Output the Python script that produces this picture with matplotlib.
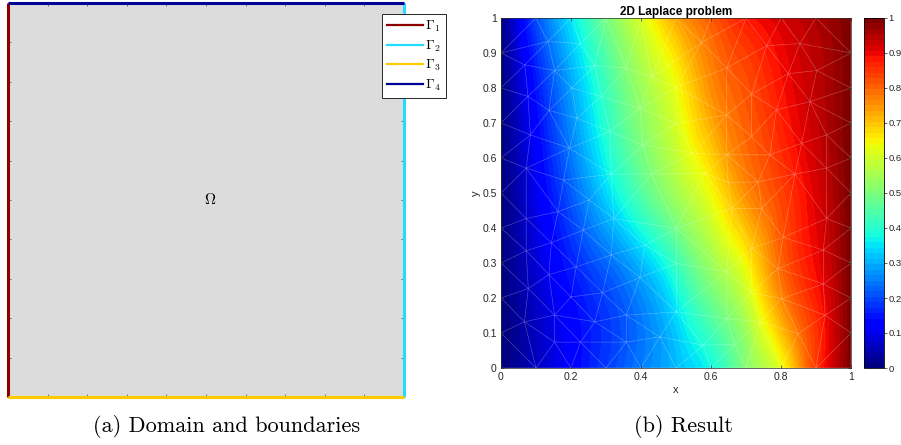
import numpy as np
import matplotlib
matplotlib.use('Agg')
import matplotlib.pyplot as plt
import matplotlib.tri as mtri
import matplotlib.colors as colors
from matplotlib.lines import Line2D

plt.rcParams['mathtext.fontset'] = 'cm'

# boundary colours of the domain (left panel)
bnd_labels = [r'$\Gamma_{\mathsf{1}}$', r'$\Gamma_{\mathsf{2}}$',
              r'$\Gamma_{\mathsf{3}}$', r'$\Gamma_{\mathsf{4}}$']
bnd_colors = ['#8e0000', '#22ddff', '#ffcc00', '#000096']

# solution, rows at grid_y, columns at grid_x
grid_x = [0.0, 0.1, 0.2, 0.3, 0.4, 0.5, 0.6, 0.7, 0.8, 0.9, 1.0]
grid_y = [0.0, 0.25, 0.5, 0.75, 1.0]
u_y000 = [0.0, 0.061, 0.122, 0.186, 0.250, 0.310, 0.375, 0.510, 0.625, 0.850, 1.0]
u_y025 = [0.0, 0.074, 0.144, 0.206, 0.281, 0.388, 0.510, 0.615, 0.781, 0.886, 1.0]
u_y050 = [0.0, 0.101, 0.216, 0.336, 0.447, 0.545, 0.637, 0.754, 0.835, 0.912, 1.0]
u_y075 = [0.0, 0.135, 0.275, 0.410, 0.525, 0.620, 0.740, 0.812, 0.878, 0.936, 1.0]
u_y100 = [0.0, 0.200, 0.350, 0.490, 0.610, 0.730, 0.810, 0.880, 0.918, 0.955, 1.0]

# mesh nodes (approximate), boundary nodes every 0.1
edge_pts = [0.0, 0.1, 0.2, 0.3, 0.4, 0.5, 0.6, 0.7, 0.8, 0.9, 1.0]
inner_x = [0.134, 0.227, 0.068, 0.153, 0.268, 0.358, 0.430, 0.501, 0.573, 0.645,
           0.759, 0.854, 0.902, 0.821, 0.716, 0.883, 0.077, 0.203, 0.287, 0.397,
           0.137, 0.217, 0.311, 0.084, 0.196, 0.406, 0.501, 0.645, 0.787, 0.930,
           0.859, 0.716, 0.768, 0.645, 0.549, 0.072, 0.179, 0.315, 0.430, 0.582,
           0.649, 0.735, 0.840, 0.930, 0.252, 0.163, 0.072, 0.322, 0.501, 0.659,
           0.745, 0.930, 0.806, 0.716, 0.235, 0.144, 0.072, 0.315, 0.501, 0.411,
           0.215, 0.137, 0.921, 0.791, 0.645, 0.397, 0.078, 0.200, 0.290, 0.716,
           0.802, 0.921, 0.153, 0.268, 0.358, 0.501, 0.645, 0.740, 0.926, 0.067,
           0.153, 0.227, 0.358, 0.454, 0.578, 0.668, 0.849]
inner_y = [0.933, 0.927, 0.866, 0.850, 0.864, 0.857, 0.831, 0.802, 0.930, 0.857,
           0.921, 0.927, 0.850, 0.841, 0.783, 0.761, 0.776, 0.800, 0.776, 0.742,
           0.736, 0.714, 0.676, 0.666, 0.628, 0.637, 0.699, 0.723, 0.738, 0.666,
           0.642, 0.661, 0.609, 0.609, 0.614, 0.571, 0.537, 0.554, 0.554, 0.556,
           0.530, 0.532, 0.554, 0.571, 0.480, 0.447, 0.427, 0.427, 0.399, 0.456,
           0.456, 0.427, 0.373, 0.342, 0.394, 0.358, 0.335, 0.323, 0.299, 0.351,
           0.289, 0.267, 0.337, 0.284, 0.275, 0.259, 0.227, 0.203, 0.215, 0.215,
           0.198, 0.240, 0.151, 0.132, 0.151, 0.160, 0.141, 0.132, 0.151, 0.132,
           0.074, 0.074, 0.074, 0.089, 0.065, 0.068, 0.098]

W, H = 901, 445
fig = plt.figure(figsize=(W / 100, H / 100), dpi=100)

def px(l, t, r, b):
    return [l / W, 1 - b / H, (r - l) / W, (b - t) / H]

# ---------------- (a) domain ----------------
axd = fig.add_axes(px(8, 3, 404, 397))
axd.set_facecolor('#dcdcdc')
axd.set_xlim(0, 1)
axd.set_ylim(0, 1)
for s in axd.spines.values():
    s.set_visible(False)
axd.set_xticks(edge_pts)
axd.set_yticks(edge_pts)
axd.tick_params(direction='in', length=2, width=0.5, color='#444444',
                top=True, right=True, labelbottom=False, labelleft=False)

segs = [([0, 0], [0, 1]), ([1, 1], [0, 1]), ([0, 1], [0, 0]), ([0, 1], [1, 1])]
handles = []
for (sx, sy), c, lab in zip(segs, bnd_colors, bnd_labels):
    axd.plot(sx, sy, color=c, lw=2.2, clip_on=False, solid_capstyle='butt', zorder=3)
    handles.append(Line2D([], [], color=c, lw=1.6, label=lab))

axd.text(0.51, 0.5, r'$\Omega$', ha='center', va='center', fontsize=11)

leg = fig.legend(handles=handles, loc='upper left',
                 bbox_to_anchor=(382 / W, 1 - 14 / H), bbox_transform=fig.transFigure,
                 borderaxespad=0, fontsize=10, handlelength=2.6, handletextpad=0.15,
                 labelspacing=0.3, borderpad=0.35, fancybox=False, framealpha=1)
leg.get_frame().set_edgecolor('#262626')
leg.get_frame().set_linewidth(0.7)

# ---------------- (b) result ----------------
jet64 = plt.get_cmap('jet', 64)
norm = colors.Normalize(vmin=0, vmax=1)

gx, gy = np.meshgrid(grid_x, grid_y)
gu = np.array([u_y000, u_y025, u_y050, u_y075, u_y100])
tri = mtri.Triangulation(gx.ravel(), gy.ravel())
refiner = mtri.UniformTriRefiner(tri)
tri_f, u_f = refiner.refine_field(gu.ravel(), subdiv=4)
u_f = np.clip(u_f, 0, 1)

axr = fig.add_axes(px(501, 18, 851, 368))
axr.tricontourf(tri_f, u_f, levels=np.linspace(0, 1, 65), cmap=jet64, norm=norm)

bx, by = [], []
for v in edge_pts:
    bx += [v, v, 0.0, 1.0]
    by += [0.0, 1.0, v, v]
nodes = np.unique(np.round(np.column_stack([bx + inner_x, by + inner_y]), 4), axis=0)
mesh = mtri.Triangulation(nodes[:, 0], nodes[:, 1])
axr.triplot(mesh, color='white', lw=0.45, alpha=0.3)

axr.set_xlim(0, 1)
axr.set_ylim(0, 1)
fmt = lambda v, p: '%g' % v
axr.xaxis.set_major_formatter(fmt)
axr.yaxis.set_major_formatter(fmt)
axr.set_xticks([0, 0.2, 0.4, 0.6, 0.8, 1.0])
axr.set_yticks(edge_pts)
tick_col = '#262626'
axr.tick_params(direction='in', length=2.5, width=0.5, labelsize=7.5,
                colors=tick_col, top=True, right=True, pad=3)
for lab in axr.get_xticklabels() + axr.get_yticklabels():
    lab.set_fontfamily('Liberation Sans')
for s in axr.spines.values():
    s.set_color(tick_col)
    s.set_linewidth(0.5)
axr.set_xlabel('x', fontsize=8, family='Liberation Sans', color=tick_col, labelpad=2)
axr.set_ylabel('y', fontsize=8, family='Liberation Sans', color=tick_col, labelpad=1)
axr.set_title('2D Laplace problem', fontsize=8.5, family='Liberation Sans',
              fontweight='bold', pad=2.5)

cax = fig.add_axes(px(864, 18, 884, 368))
sm = plt.cm.ScalarMappable(cmap=jet64, norm=norm)
cb = fig.colorbar(sm, cax=cax, ticks=edge_pts, format=fmt)
cb.outline.set_linewidth(0.6)
cb.ax.tick_params(length=2, width=0.5, labelsize=6.8, colors=tick_col, pad=1)
for lab in cb.ax.get_yticklabels():
    lab.set_fontfamily('Liberation Sans')

# captions
fig.text(227 / W, 1 - 427 / H, '(a) Domain and boundaries', ha='center', va='center',
         fontsize=16, family='cmr10')
fig.text(683 / W, 1 - 427 / H, '(b) Result', ha='center', va='center',
         fontsize=16, family='cmr10')

fig.savefig('out.png', dpi=100)
